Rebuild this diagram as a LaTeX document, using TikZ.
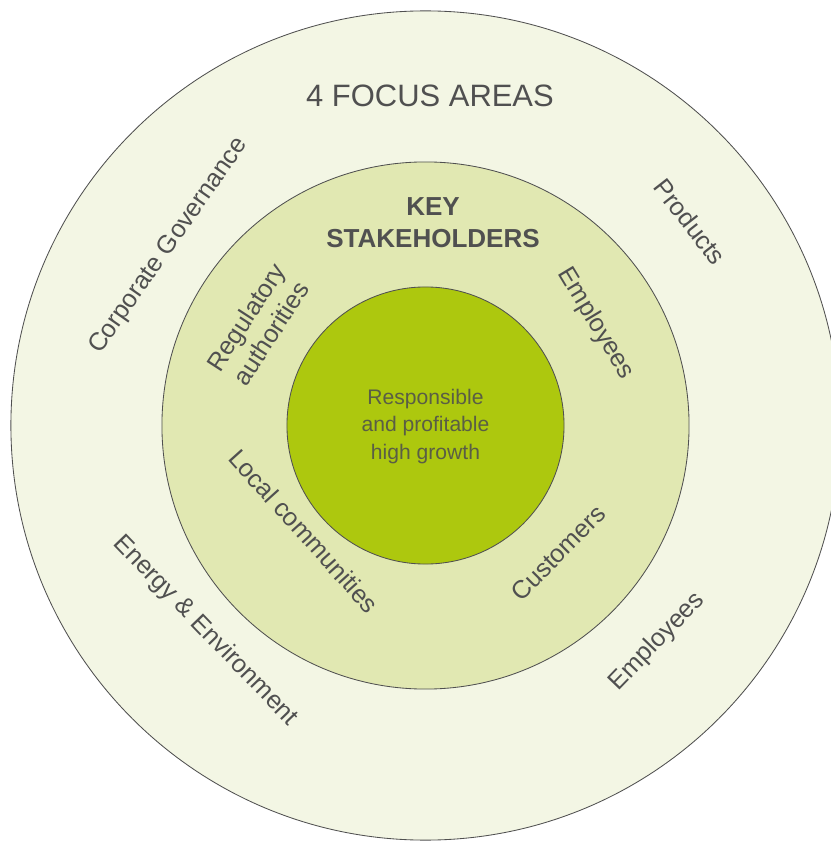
\documentclass[tikz,border=0pt]{standalone}
\usepackage{fontspec}
\setmainfont{Liberation Sans}
\definecolor{ringout}{HTML}{F3F6E4}
\definecolor{ringmid}{HTML}{E1E8B2}
\definecolor{core}{HTML}{ADC80E}
\definecolor{txtgray}{HTML}{505050}
\definecolor{coretxt}{HTML}{5A5E45}
\tikzset{
  disc/.style={circle, draw=txtgray, line width=0.6pt, inner sep=0pt, outer sep=0pt},
  lbl/.style={text=txtgray, align=center, inner sep=0pt, font=\fontsize{18}{21.3}\selectfont},
  title/.style={text=txtgray, align=center, inner sep=0pt},
}
\begin{document}
\begin{tikzpicture}[x=0.025cm, y=0.025cm]
    \useasboundingbox (-425.5,-415.5) rectangle (404.5,425.5);
    \node[disc, fill=ringout, minimum size=20.725cm] (outer) at (0,0) {};
    \node[disc, fill=ringmid, minimum size=13.175cm] (middle) at (0,0) {};
    \node[disc, fill=core, minimum size=6.925cm] (inner) at (0,0) {};

    \node[title, font=\fontsize{22}{26}\selectfont] (areas) at (4.5,329.5) {4 FOCUS AREAS};
    \node[title, font=\fontsize{18.5}{22.8}\selectfont\bfseries] (stake) at (7.5,202.5) {KEY\\STAKEHOLDERS};
    \node[title, text=coretxt, font=\fontsize{15}{19.6}\selectfont] (goal) at (0,-1) {Responsible\\and profitable\\high growth};

    % focus areas
    \foreach \a/\r/\rot/\txt [count=\i] in {145/313/55/Corporate Governance, 37.6/334/-52/Products, -43/317/46/Employees, 223/301/-46/Energy \& Environment}
        \node[lbl, rotate=\rot] (f\i) at (\a:\r) {\txt};
    % stakeholders
    \foreach \a/\r/\rot/\txt [count=\i] in {149/195/57/{Regulatory\\authorities}, 30.9/198/-59/Employees, 221/161/-48/Local communities, -43.8/184/45/Customers}
        \node[lbl, rotate=\rot] (s\i) at (\a:\r) {\txt};
\end{tikzpicture}
\end{document}
